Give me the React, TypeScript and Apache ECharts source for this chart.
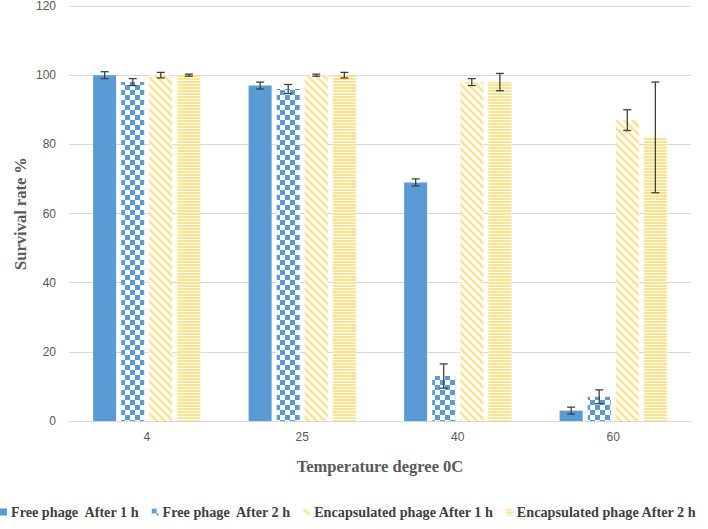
import React, { useEffect, useRef } from "react";
import * as echarts from "echarts";

const categories = ["4", "25", "40", "60"];
const seriesNames = [
  "Free phage  After 1 h",
  "Free phage  After 2 h",
  "Encapsulated phage After 1 h",
  "Encapsulated phage After 2 h",
];
const freeAfter1h = [100, 97, 69, 3];
const freeAfter1hErr = [1, 1, 1, 1];
const freeAfter2h = [98, 96, 13, 7];
const freeAfter2hErr = [1, 1.3, 3.5, 2];
const encAfter1h = [100, 100, 98, 87];
const encAfter1hErr = [0.8, 0.3, 1, 3];
const encAfter2h = [100, 100, 98, 82];
const encAfter2hErr = [0.3, 0.8, 2.5, 16];
const yTicks = { min: 0, max: 120, interval: 20 };

const BAR_W = 0.148;
const GAP = 0.22;

function makeCanvas(w: number, h: number, draw: (c: CanvasRenderingContext2D) => void) {
  const cv = document.createElement("canvas");
  cv.width = w;
  cv.height = h;
  const ctx = cv.getContext("2d")!;
  draw(ctx);
  return cv;
}

export default function App() {
  const ref = useRef<HTMLDivElement>(null);
  useEffect(() => {
    if (!ref.current) return;
    const chart = echarts.init(ref.current, undefined, { renderer: "svg" });

    const blue = "#5B9BD5";
    const yellow = "#FFE28A";

    const checker = makeCanvas(10, 10, (c) => {
      c.fillStyle = "#ffffff";
      c.fillRect(0, 0, 10, 10);
      c.fillStyle = blue;
      c.fillRect(0, 0, 5, 5);
      c.fillRect(5, 5, 5, 5);
    });
    const diag = makeCanvas(8, 8, (c) => {
      c.fillStyle = "#ffffff";
      c.fillRect(0, 0, 8, 8);
      c.strokeStyle = yellow;
      c.lineWidth = 2.6;
      c.beginPath();
      c.moveTo(-2, -2);
      c.lineTo(10, 10);
      c.moveTo(-2, 6);
      c.lineTo(2, 10);
      c.moveTo(6, -2);
      c.lineTo(10, 2);
      c.stroke();
    });
    const horiz = makeCanvas(4, 3, (c) => {
      c.fillStyle = "#ffffff";
      c.fillRect(0, 0, 4, 3);
      c.fillStyle = yellow;
      c.fillRect(0, 0, 4, 2);
    });

    const fills: any[] = [
      blue,
      { image: checker, repeat: "repeat" },
      { image: diag, repeat: "repeat" },
      { image: horiz, repeat: "repeat" },
    ];
    const values = [freeAfter1h, freeAfter2h, encAfter1h, encAfter2h];
    const errs = [freeAfter1hErr, freeAfter2hErr, encAfter1hErr, encAfter2hErr];

    const errData: number[][] = [];
    values.forEach((vals, si) => {
      vals.forEach((v, ci) => {
        errData.push([ci, si, v - errs[si][ci], v + errs[si][ci]]);
      });
    });

    const barSeries = values.map((vals, si) => ({
      name: seriesNames[si],
      type: "bar",
      data: vals,
      barWidth: BAR_W * 100 + "%",
      barGap: GAP * 100 + "%",
      itemStyle: { color: fills[si] },
    }));

    chart.setOption({
      animation: false,
      grid: { left: 69, right: 17, top: 5, bottom: 108 },
      legend: {
        data: seriesNames,
        left: 0,
        top: 505,
        width: 708,
        padding: 0,
        itemWidth: 7,
        itemHeight: 7,
        itemGap: 12,
        icon: "rect",
        textStyle: {
          fontFamily: "Liberation Serif",
          fontWeight: "bold",
          fontSize: 14.2,
          color: "#404040",
          padding: [0, 0, 0, -1],
        },
      },
      xAxis: {
        type: "category",
        data: categories,
        name: "Temperature degree 0C",
        nameLocation: "middle",
        nameGap: 37,
        nameMoveOverlap: false,
        nameTextStyle: {
          fontFamily: "Liberation Serif",
          fontWeight: "bold",
          fontSize: 16.5,
          color: "#595959",
        },
        axisLine: { lineStyle: { color: "#D9D9D9", width: 1 } },
        axisTick: { show: false },
        axisLabel: { margin: 10, fontFamily: "Liberation Sans", fontSize: 12, color: "#595959" },
      },
      yAxis: {
        type: "value",
        min: yTicks.min,
        max: yTicks.max,
        interval: yTicks.interval,
        name: "Survival rate %",
        nameLocation: "middle",
        nameGap: 40,
        nameMoveOverlap: false,
        nameTextStyle: {
          fontFamily: "Liberation Serif",
          fontWeight: "bold",
          fontSize: 16.5,
          color: "#595959",
        },
        axisLine: { show: false },
        axisTick: { show: false },
        splitLine: { lineStyle: { color: "#D9D9D9", width: 1 } },
        axisLabel: { margin: 13, fontFamily: "Liberation Sans", fontSize: 12, color: "#595959" },
      },
      series: [
        ...barSeries,
        {
          type: "custom",
          name: "errors",
          z: 10,
          encode: { x: 0, y: [2, 3] },
          data: errData,
          renderItem: (params: any, api: any) => {
            const ci = api.value(0);
            const si = api.value(1);
            const lo = api.value(2);
            const hi = api.value(3);
            const band = api.size([1, 0])[0];
            const bw = band * BAR_W;
            const gap = bw * GAP;
            const total = 4 * bw + 3 * gap;
            const cx = api.coord([ci, 0])[0] - total / 2 + bw / 2 + si * (bw + gap);
            const yTop = api.coord([ci, hi])[1];
            const yBot = api.coord([ci, lo])[1];
            const cap = 4;
            const style = { stroke: "#404040", lineWidth: 1.3 };
            return {
              type: "group",
              children: [
                { type: "line", shape: { x1: cx, y1: yTop, x2: cx, y2: yBot }, style },
                { type: "line", shape: { x1: cx - cap, y1: yTop, x2: cx + cap, y2: yTop }, style },
                { type: "line", shape: { x1: cx - cap, y1: yBot, x2: cx + cap, y2: yBot }, style },
              ],
            };
          },
        },
      ],
    });
    return () => chart.dispose();
  }, []);
  return (
    <div
      ref={ref}
      style={{ position: "fixed", left: 0, top: 0, width: 708, height: 529, background: "#fff" }}
    />
  );
}
